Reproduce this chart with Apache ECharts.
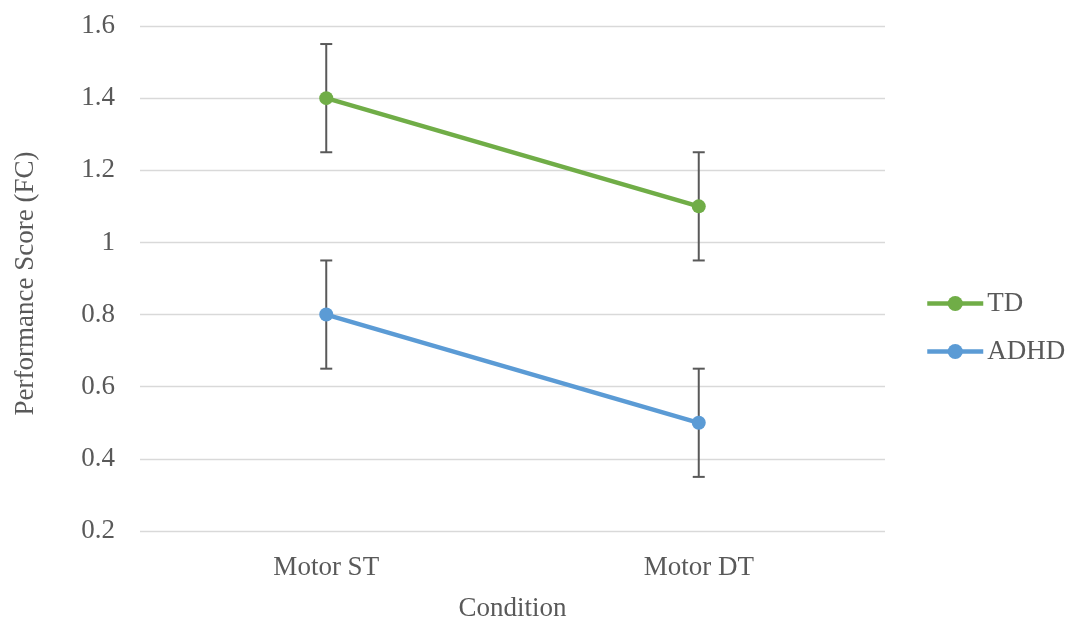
<!DOCTYPE html>
<html>
<head>
<meta charset="utf-8">
<script src="https://cdn.jsdelivr.net/npm/echarts@6/dist/echarts.min.js"></script>
<style>
  html, body { margin: 0; padding: 0; background: #fff; }
  #chart { width: 1071px; height: 621px; }
</style>
</head>
<body>
<div id="chart"></div>
<script>
// Conditions and group means with their error margins
const categories = ['Motor ST', 'Motor DT'];
const tdValues = [1.4, 1.1];
const adhdValues = [0.8, 0.5];
const tdError = [0.15, 0.15];
const adhdError = [0.15, 0.15];
const yTicks = { min: 0.2, max: 1.6, interval: 0.2 };

const FONT = '"Liberation Serif", "Times New Roman", serif';
const TEXT = '#595959';
const FS = 27;

function errorData(values, errs) {
  return values.map((v, i) => [i, v - errs[i], v + errs[i]]);
}

function renderErrorBar(params, api) {
  const x = api.value(0);
  const lo = api.coord([x, api.value(1)]);
  const hi = api.coord([x, api.value(2)]);
  const cap = 6;
  const style = { stroke: '#595959', lineWidth: 2 };
  return {
    type: 'group',
    children: [
      { type: 'line', shape: { x1: hi[0], y1: hi[1], x2: lo[0], y2: lo[1] }, style },
      { type: 'line', shape: { x1: hi[0] - cap, y1: hi[1], x2: hi[0] + cap, y2: hi[1] }, style },
      { type: 'line', shape: { x1: lo[0] - cap, y1: lo[1], x2: lo[0] + cap, y2: lo[1] }, style }
    ]
  };
}

const chart = echarts.init(document.getElementById('chart'));
chart.setOption({
  animation: false,
  textStyle: { fontFamily: FONT },
  grid: { left: 140, right: 186, top: 26, bottom: 90, outerBoundsMode: 'none', containLabel: false },
  legend: {
    orient: 'vertical',
    left: 920,
    top: 285,
    itemWidth: 56,
    itemHeight: 19,
    itemGap: 21,
    data: ['TD', 'ADHD'],
    lineStyle: { width: 4.5 },
    textStyle: { fontFamily: FONT, fontSize: FS, color: TEXT, padding: [0, 0, 0, -1] }
  },
  xAxis: {
    type: 'category',
    data: categories,
    boundaryGap: true,
    name: 'Condition',
    nameLocation: 'middle',
    nameGap: 64,
    nameTextStyle: { fontFamily: FONT, fontSize: FS, color: TEXT },
    axisLine: { show: false },
    axisTick: { show: false },
    axisLabel: { fontFamily: FONT, fontSize: FS, color: TEXT, margin: 23 }
  },
  yAxis: {
    type: 'value',
    min: yTicks.min,
    max: yTicks.max,
    interval: yTicks.interval,
    name: 'Performance Score (FC)',
    nameLocation: 'middle',
    nameGap: 101,
    nameTextStyle: { fontFamily: FONT, fontSize: FS, color: TEXT, padding: [0, 10, 0, 0] },
    axisLine: { show: false },
    axisTick: { show: false },
    axisLabel: {
      fontFamily: FONT, fontSize: FS, color: TEXT, margin: 25,
      formatter: v => String(Math.round(v * 10) / 10)
    },
    splitLine: { lineStyle: { color: '#d9d9d9', width: 1.3 } }
  },
  series: [
    {
      name: 'TD',
      type: 'line',
      data: tdValues,
      color: '#70ad47',
      lineStyle: { width: 4.5 },
      symbol: 'circle',
      symbolSize: 14,
      z: 3
    },
    {
      name: 'ADHD',
      type: 'line',
      data: adhdValues,
      color: '#5b9bd5',
      lineStyle: { width: 4.5 },
      symbol: 'circle',
      symbolSize: 14,
      z: 3
    },
    {
      name: 'TD error',
      type: 'custom',
      data: errorData(tdValues, tdError),
      renderItem: renderErrorBar,
      encode: { x: 0, y: [1, 2] },
      z: 2
    },
    {
      name: 'ADHD error',
      type: 'custom',
      data: errorData(adhdValues, adhdError),
      renderItem: renderErrorBar,
      encode: { x: 0, y: [1, 2] },
      z: 2
    }
  ]
});
</script>
</body>
</html>
